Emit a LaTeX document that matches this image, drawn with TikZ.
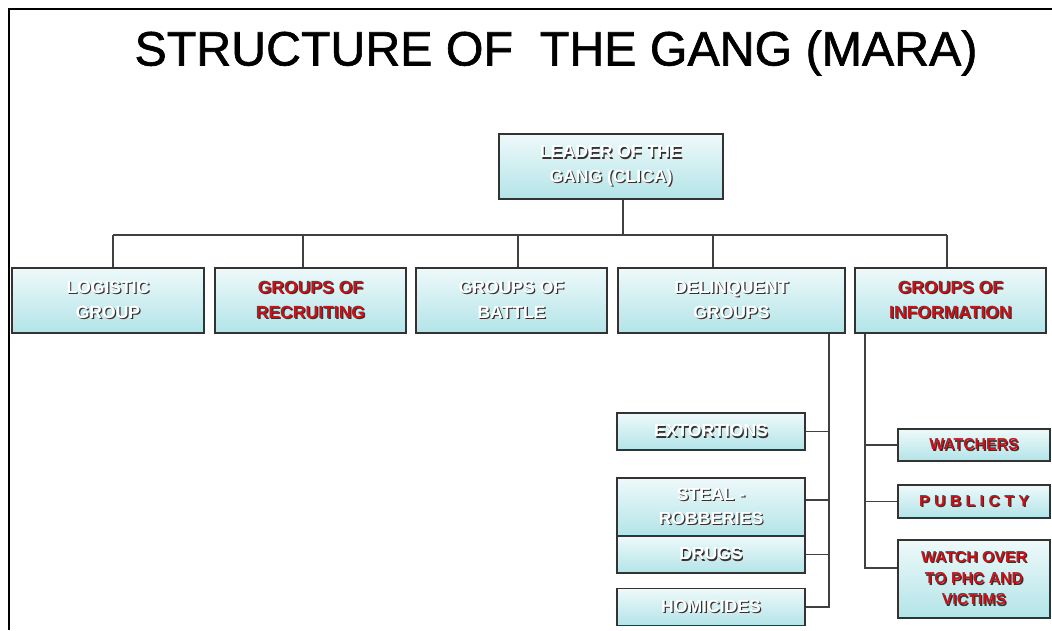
\documentclass[tikz,border=0pt]{standalone}
\usepackage{fontspec}
\setmainfont{Liberation Sans}
\newfontfamily\titlefont[FakeBold=1.3]{Liberation Sans}
\definecolor{boxtop}{RGB}{238,249,250}
\definecolor{boxbot}{RGB}{178,228,232}
\definecolor{redtext}{RGB}{198,20,26}
\newcommand{\emb}[2][white]{\makebox[0pt][l]{\hspace{0.7pt}\raisebox{-0.7pt}{\textcolor{black!80}{#2}}}\textcolor{#1}{#2}}
\newcommand{\redemb}[1]{\emb[redtext]{#1}}

\begin{document}
\begin{tikzpicture}[x=0.02cm, y=-0.02cm,
    unit/.style ={draw=black!80, line width=1.1pt, top color=boxtop, bottom color=boxbot,
      font=\bfseries\fontsize{10}{14}\selectfont, align=center, inner sep=0pt},
    small/.style ={unit, font=\bfseries\fontsize{9}{12}\selectfont},
    link/.style ={draw=black!75, line width=0.8pt}]
   \useasboundingbox (0,0) rectangle (1052,630);
   \draw[line width=1.4pt] (9,630) -- (9,9) -- (1052,9);
   \node (title) at (556,53) {\titlefont\fontsize{27.5}{32}\selectfont STRUCTURE OF\ \ THE GANG (MARA)};
   % top of the tree
   \node[unit, minimum width=4.48cm, minimum height=1.3cm] (leader) at (611,166.5) {\emb{LEADER OF THE}\\\emb{GANG (CLICA)}};
   \node[unit, minimum width=3.84cm, minimum height=1.3cm] (logistic) at (108,300.5) {\emb{LOGISTIC}\\\emb{GROUP}};
   \node[unit, minimum width=3.82cm, minimum height=1.3cm] (recruiting) at (310.5,300.5) {\redemb{GROUPS OF}\\\redemb{RECRUITING}};
   \node[unit, minimum width=3.82cm, minimum height=1.3cm] (battle) at (511.5,300.5) {\emb{GROUPS OF}\\\emb{BATTLE}};
   \node[unit, minimum width=4.54cm, minimum height=1.3cm] (delinquent) at (731.5,300.5) {\emb{DELINQUENT}\\\emb{GROUPS}};
   \node[unit, minimum width=3.82cm, minimum height=1.3cm] (information) at (950.5,300.5) {\redemb{GROUPS OF}\\\redemb{INFORMATION}};
   % delinquent groups
   \node[unit, minimum width=3.76cm, minimum height=0.74cm] (extortions) at (711,431.5) {\emb{EXTORTIONS}};
   \node[unit, minimum width=3.76cm, minimum height=1.16cm] (steal) at (711,507) {\emb{STEAL -}\\\emb{ROBBERIES}};
   \node[unit, minimum width=3.76cm, minimum height=0.74cm] (drugs) at (711,554.5) {\emb{DRUGS}};
   \node[unit, minimum width=3.76cm, minimum height=0.74cm] (homicides) at (711,607) {\emb{HOMICIDES}};
   % groups of information
   \node[small, minimum width=3.04cm, minimum height=0.64cm] (watchers) at (974,445) {\redemb{WATCHERS}};
   \node[small, minimum width=3.04cm, minimum height=0.66cm] (publicity) at (974,501.5) {\redemb{P U B L I C T Y}};
   \node[small, minimum width=3.04cm, minimum height=1.56cm] (watchover) at (974,579) {\redemb{WATCH OVER}\\\redemb{TO PHC AND}\\\redemb{VICTIMS}};

   \coordinate (top) at (623,235);
   \coordinate (b1) at (113,235);
   \coordinate (b2) at (303,235);
   \coordinate (b3) at (518,235);
   \coordinate (b4) at (713,235);
   \coordinate (b5) at (947,235);
   \draw[link] (leader.south -| top) -- (top);
   \draw[link] (b1) -- (b5);
   \foreach \b/\n in {b1/logistic, b2/recruiting, b3/battle, b4/delinquent, b5/information}
      \draw[link] (\b) -- (\b |- \n.north);

   \coordinate (dl) at (829,0);
   \draw[link] (dl |- delinquent.south) |- (homicides.east);
   \foreach \n in {extortions, drugs}
      \draw[link] (\n.east) -- (\n.east -| dl);
   \draw[link] ([yshift=0.14cm]steal.east) -- ([yshift=0.14cm]steal.east -| dl);

   \coordinate (il) at (865,0);
   \draw[link] (il |- information.south) |- ([yshift=0.22cm]watchover.west);
   \foreach \n in {watchers, publicity}
      \draw[link] (il |- \n.west) -- (\n.west);
\end{tikzpicture}
\end{document}
